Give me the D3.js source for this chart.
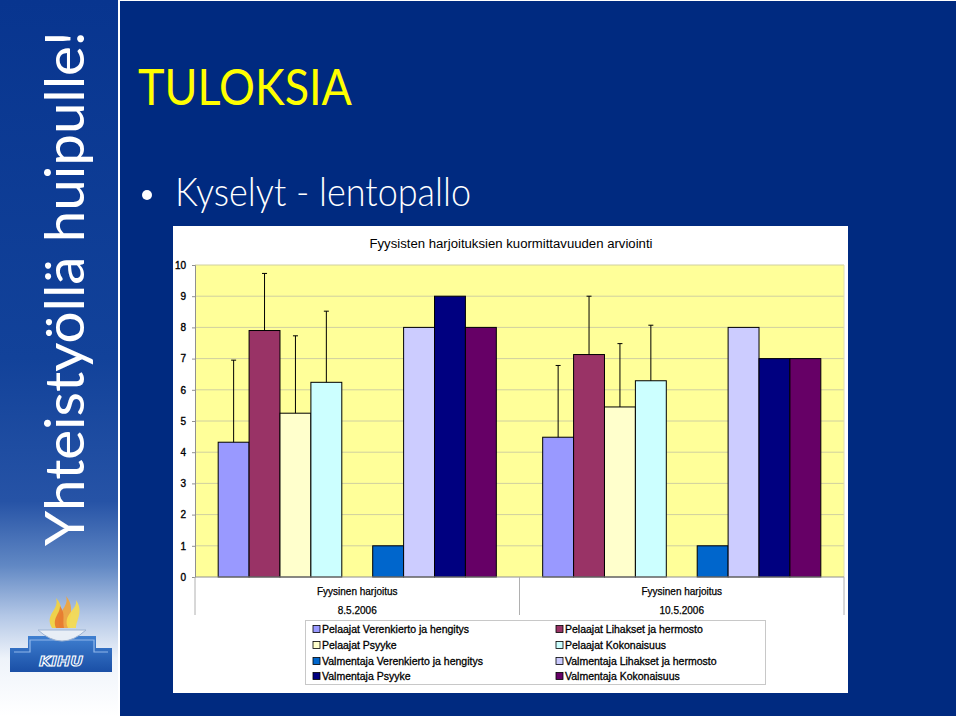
<!DOCTYPE html>
<html><head><meta charset="utf-8">
<script src="https://cdn.jsdelivr.net/npm/d3@7"></script>
<style>body{margin:0;background:#fff}svg{display:block}</style>
</head><body>
<svg id="c" width="960" height="716"></svg>
<script>
// ---- data ----
const categories = ["8.5.2006", "10.5.2006"];
const categoryTitle = "Fyysinen harjoitus";
const seriesNames = [
  "Pelaajat Verenkierto ja hengitys", "Pelaajat Lihakset ja hermosto",
  "Pelaajat Psyyke", "Pelaajat Kokonaisuus",
  "Valmentaja Verenkierto ja hengitys", "Valmentaja Lihakset ja hermosto",
  "Valmentaja Psyyke", "Valmentaja Kokonaisuus"
];
const seriesColors = ["#9999FF","#993366","#FFFFCC","#CCFFFF","#0066CC","#CCCCFF","#000080","#660066"];
const pelaajatVerenkierto = [4.32, 4.48];
const pelaajatLihakset    = [7.9, 7.13];
const pelaajatPsyyke      = [5.25, 5.45];
const pelaajatKokonaisuus = [6.24, 6.29];
const valmentajaVerenkierto = [1, 1];
const valmentajaLihakset    = [8, 8];
const valmentajaPsyyke      = [9, 7];
const valmentajaKokonaisuus = [8, 7];
// plus-direction error bars (Pelaajat only)
const errPelaajatVerenkierto = [2.63, 2.3];
const errPelaajatLihakset    = [1.83, 1.87];
const errPelaajatPsyyke      = [2.48, 2.03];
const errPelaajatKokonaisuus = [2.28, 1.78];
const yTicks = [0,1,2,3,4,5,6,7,8,9,10];
const chartTitle = "Fyysisten harjoituksien kuormittavuuden arviointi";
const slideTitle = "TULOKSIA";
const bulletText = "Kyselyt - lentopallo";
const sideText = "Yhteistyöllä huipulle!";

const seriesValues = [pelaajatVerenkierto, pelaajatLihakset, pelaajatPsyyke, pelaajatKokonaisuus,
  valmentajaVerenkierto, valmentajaLihakset, valmentajaPsyyke, valmentajaKokonaisuus];
const seriesErrors = [errPelaajatVerenkierto, errPelaajatLihakset, errPelaajatPsyyke, errPelaajatKokonaisuus,
  null, null, null, null];
// slot order: an empty slot sits between the player and coach groups
const slotOrder = [...seriesNames.slice(0,4), "__gap__", ...seriesNames.slice(4)];

const svg = d3.select("#c");
const defs = svg.append("defs");

// ---- slide background ----
svg.append("rect").attr("x",0).attr("y",0).attr("width",960).attr("height",716).attr("fill","#ffffff");
const g1 = defs.append("linearGradient").attr("id","side").attr("x1",0).attr("y1",0).attr("x2",0).attr("y2",1);
[[0,"#08358f"],[0.5,"#12429a"],[0.7,"#2653a6"],[0.79,"#6188c4"],[0.86,"#b3c7e6"],[0.92,"#eef3fa"],[1,"#ffffff"]]
  .forEach(([o,c]) => g1.append("stop").attr("offset",o).attr("stop-color",c));
svg.append("rect").attr("x",0).attr("y",0).attr("width",118).attr("height",716).attr("fill","url(#side)");
svg.append("rect").attr("x",120).attr("y",1).attr("width",836).attr("height",715).attr("fill","#002a80");

// side vertical text
svg.append("text")
  .attr("transform","translate(84,546) rotate(-90)")
  .attr("font-family","Lato, 'Open Sans', sans-serif").attr("font-weight",400)
  .attr("font-size",55).attr("fill","#ffffff")
  .attr("textLength",515).attr("lengthAdjust","spacingAndGlyphs")
  .text(sideText);

// KIHU logo (simplified)
const logo = svg.append("g");
const lg = defs.append("linearGradient").attr("id","lb").attr("x1",0).attr("y1",0).attr("x2",0).attr("y2",1);
lg.append("stop").attr("offset",0).attr("stop-color","#3f7fd0");
lg.append("stop").attr("offset",1).attr("stop-color","#1a4fa6");
logo.append("path").attr("d","M10,648 L28,648 L28,636 L96,636 L96,648 L112,648 L112,672 L10,672 Z")
  .attr("fill","url(#lb)");
logo.append("path").attr("d","M14,652 L30,652 L30,640 L94,640 L94,652 L108,652").attr("fill","none")
  .attr("stroke","#8fb6ea").attr("stroke-width",1.2);
logo.append("path").attr("d","M38,630 Q62,652 86,630 Z").attr("fill","#e8eef6").attr("stroke","#9db3d3");
const flames = [["#f5d33a","M52,628 C44,614 60,610 56,598 C66,608 58,618 62,628 Z"],
                ["#f2a437","M60,628 C54,612 70,608 66,596 C76,608 68,618 70,628 Z"],
                ["#f7dc4c","M68,628 C62,614 78,610 76,600 C84,612 76,620 76,628 Z"],
                ["#e7792f","M56,628 C52,618 60,614 60,606 C66,614 62,620 64,628 Z"]];
flames.forEach(([c,d]) => logo.append("path").attr("d",d).attr("fill",c).attr("opacity",0.9));
logo.append("text").attr("x",61).attr("y",666).attr("text-anchor","middle")
  .attr("font-family","'DejaVu Sans', sans-serif").attr("font-weight","bold").attr("font-style","italic")
  .attr("font-size",14).attr("fill","none").attr("stroke","#ffffff").attr("stroke-width",1)
  .attr("textLength",44).attr("lengthAdjust","spacingAndGlyphs").text("KIHU");

// slide title & bullet
svg.append("text").attr("x",138).attr("y",105)
  .attr("font-family","Lato, 'Open Sans', sans-serif").attr("font-weight",400)
  .attr("font-size",51).attr("fill","#ffff00")
  .attr("textLength",214).attr("lengthAdjust","spacingAndGlyphs").text(slideTitle);
svg.append("circle").attr("cx",147).attr("cy",195).attr("r",5).attr("fill","#ffffff");
svg.append("text").attr("x",175).attr("y",206)
  .attr("font-family","Lato, 'Open Sans', sans-serif").attr("font-weight",300)
  .attr("font-size",40).attr("fill","#ffffff")
  .attr("textLength",296).attr("lengthAdjust","spacingAndGlyphs").text(bulletText);

// ---- chart box ----
svg.append("rect").attr("x",173).attr("y",226).attr("width",675).attr("height",467).attr("fill","#ffffff");

const plot = {left:195, right:844, top:265, bottom:577};
const x0 = d3.scaleBand().domain(categories).range([plot.left, plot.right]).paddingInner(0).paddingOuter(0);
const x1 = d3.scaleBand().domain(slotOrder).range([0, x0.bandwidth()]).paddingInner(0).paddingOuter(0.75);
const y = d3.scaleLinear().domain([0,10]).range([plot.bottom, plot.top]);

svg.append("text").attr("x",511).attr("y",248).attr("text-anchor","middle")
  .attr("font-family","'Liberation Sans', Arial, sans-serif").attr("font-size",12.5).attr("fill","#000")
  .attr("textLength",283).attr("lengthAdjust","spacingAndGlyphs").text(chartTitle);

// plot area
svg.append("rect").attr("x",plot.left).attr("y",plot.top)
  .attr("width",plot.right-plot.left).attr("height",plot.bottom-plot.top).attr("fill","#ffff99");

// gridlines
svg.append("g").selectAll("line").data(yTicks.filter(t => t>0)).join("line")
  .attr("x1",plot.left).attr("x2",plot.right).attr("y1",d=>y(d)).attr("y2",d=>y(d))
  .attr("stroke","#d0d0a0").attr("stroke-width",1);
svg.append("line").attr("x1",plot.right).attr("x2",plot.right).attr("y1",plot.top).attr("y2",plot.bottom)
  .attr("stroke","#e0e0b0");

// y axis
const yAxis = svg.append("g").attr("transform",`translate(${plot.left},0)`)
  .call(d3.axisLeft(y).tickValues(yTicks).tickSize(3).tickPadding(6).tickFormat(d3.format("d")));
yAxis.select(".domain").attr("stroke","#909090");
yAxis.selectAll(".tick line").attr("stroke","#909090");
yAxis.selectAll("text").attr("font-family","'Liberation Sans', Arial, sans-serif")
  .attr("font-size",10).attr("fill","#000").attr("stroke","#000").attr("stroke-width",0.35);

// bars
const barData = [];
categories.forEach((c, ci) => seriesNames.forEach((s, si) => {
  barData.push({cat:c, series:s, value:seriesValues[si][ci],
    err: seriesErrors[si] ? seriesErrors[si][ci] : null, color:seriesColors[si]});
}));
const bars = svg.append("g");
bars.selectAll("rect").data(barData).join("rect")
  .attr("x", d => x0(d.cat) + x1(d.series))
  .attr("y", d => y(d.value))
  .attr("width", x1.bandwidth())
  .attr("height", d => y(0) - y(d.value))
  .attr("fill", d => d.color).attr("stroke","#000").attr("stroke-width",1);

// error bars (plus only)
const eb = svg.append("g").attr("stroke","#000").attr("stroke-width",1);
barData.filter(d => d.err != null).forEach(d => {
  const cx = x0(d.cat) + x1(d.series) + x1.bandwidth()/2;
  eb.append("line").attr("x1",cx).attr("x2",cx).attr("y1",y(d.value)).attr("y2",y(d.value+d.err));
  eb.append("line").attr("x1",cx-2.5).attr("x2",cx+2.5).attr("y1",y(d.value+d.err)).attr("y2",y(d.value+d.err));
});

// x axis
svg.append("line").attr("x1",plot.left).attr("x2",plot.right).attr("y1",plot.bottom).attr("y2",plot.bottom)
  .attr("stroke","#909090");
const sepX = [...categories.map(c => x0(c)), plot.right];
svg.append("g").selectAll("line").data(sepX).join("line")
  .attr("x1",d=>d).attr("x2",d=>d).attr("y1",plot.bottom).attr("y2",615)
  .attr("stroke","#b0b0b0");
const xl = svg.append("g").attr("font-family","'Liberation Sans', Arial, sans-serif")
  .attr("font-size",10).attr("fill","#000").attr("stroke","#000").attr("stroke-width",0.25)
  .attr("text-anchor","middle");
categories.forEach(c => {
  const cx = x0(c) + x0.bandwidth()/2;
  xl.append("text").attr("x",cx).attr("y",595).text(categoryTitle);
  xl.append("text").attr("x",cx).attr("y",614).text(c);
});

// legend
svg.append("rect").attr("x",305.5).attr("y",620.5).attr("width",460).attr("height",64)
  .attr("fill","#ffffff").attr("stroke","#c8c8c8");
const legCols = [313, 556];
const legRows = [629, 645, 661, 676];
const leg = svg.append("g");
seriesNames.forEach((s, i) => {
  const lx = legCols[i % 2], ly = legRows[Math.floor(i / 2)];
  leg.append("rect").attr("x",lx).attr("y",ly-3.5).attr("width",7).attr("height",7)
    .attr("fill",seriesColors[i]).attr("stroke","#000").attr("stroke-width",0.8);
  leg.append("text").attr("x",lx+9).attr("y",ly+3.8)
    .attr("font-family","'Liberation Sans', Arial, sans-serif").attr("font-size",10.5).attr("fill","#000")
    .attr("stroke","#000").attr("stroke-width",0.3)
    .text(s);
});
</script>
</body></html>
